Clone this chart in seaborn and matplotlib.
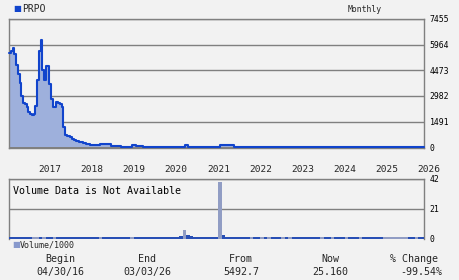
import numpy as np
import pandas as pd
import matplotlib
matplotlib.use("Agg")
import matplotlib.pyplot as plt
import matplotlib.transforms as mtransforms
import seaborn as sns

# ---------------- data ----------------
ticker = "PRPO"
start_year = 2016 + 4 / 12          # 04/30/16
end_year = 2026 + 2 / 12 + 3 / 365  # 03/03/26

# half-monthly closes, May 2016 .. Dec 2018
price_early = [
    5500, 5620, 5760, 5400, 4800, 4250, 3750, 3000,          # 2016 May-Aug
    2600, 2500, 2350, 2050, 1950, 1900, 1950, 2400,          # 2016 Sep-Dec
    3900, 5600, 6240, 4500, 3900, 4700, 4700, 3700,          # 2017 Jan-Apr
    2800, 2350, 2350, 2650, 2580, 2500, 2350, 1200,          # 2017 May-Aug
    690, 650, 650, 590, 480, 420, 360, 340,                  # 2017 Sep-Dec
    330, 300, 270, 230, 170, 160, 150, 150,                  # 2018 Jan-Apr
    150, 140, 116, 116, 165, 165, 165, 165,                  # 2018 May-Aug
    160, 160, 80, 77, 60, 50, 45, 45,                        # 2018 Sep-Dec
]
# monthly closes, Jan 2019 .. Mar 2026
price_late = [
    40, 40, 40, 150, 80, 70, 30, 30, 30, 30, 30, 30,                # 2019
    30, 30, 30, 30, 30, 30, 110, 35, 35, 35, 35, 35,                # 2020
    35, 35, 35, 35, 115, 115, 115, 115, 30, 30, 30, 30,             # 2021
    29, 30, 30, 29, 30, 29, 30, 30, 30, 29, 30, 29,                 # 2022
    30, 30, 30, 30, 30, 30, 30, 29, 28, 29, 29, 28,                 # 2023
    29, 28, 28, 27, 28, 28, 27, 26, 27, 27, 27, 27,                 # 2024
    27, 26, 25.5, 26, 26.5, 27, 27.5, 28, 28.5, 29, 28, 27,         # 2025
    28, 25.5, 25.16,                                                # 2026
]
# monthly volume / 1000, May 2016 .. Mar 2026
volume = [
    1.1, 1.1, 1.1, 1.1, 1.1, 1.1, 1.1, 1.1,
    1.1, 1.1, 1.1, 1.1, 1.1, 1.1, 1.1, 1.1, 1.1, 1.1, 1.1, 1.1,
    1.1, 1.1, 1.1, 1.1, 1.1, 1.1, 1.1, 1.1, 1.1, 1.1, 1.1, 1.1,
    1.1, 1.1, 1.1, 1.6, 1.4, 1.1, 1.1, 1.1, 1.1, 1.1, 1.1, 1.1,
    1.1, 1.1, 1.1, 1.1, 1.2, 1.8, 6.3, 2.8, 1.8, 1.1, 1.4, 1.1,
    1.1, 1.1, 1.1, 1.1, 40.0, 2.8, 1.4, 1.1, 1.1, 1.1, 1.1, 1.1,
    1.1, 1.1, 1.1, 1.1, 1.1, 1.1, 1.1, 1.1, 1.1, 1.1, 1.1, 1.1,
    1.1, 1.1, 1.1, 1.1, 1.1, 1.1, 1.1, 1.1, 1.1, 1.1, 1.1, 1.1,
    1.1, 1.1, 1.1, 1.1, 1.1, 1.1, 1.1, 1.1, 1.1, 1.1, 1.1, 1.1,
    1.1, 1.1, 1.1, 1.1, 1.1, 1.1, 1.1, 1.1, 1.1, 1.1, 1.1, 1.1,
    1.1, 1.1, 1.1,
]
price_ticks = [0, 1491, 2982, 4473, 5964, 7455]
volume_ticks = [0, 21, 42]
years = [2017, 2018, 2019, 2020, 2021, 2022, 2023, 2024, 2025, 2026]
stat_labels = ["Begin", "End", "From", "Now", "% Change"]
stat_values = ["04/30/16", "03/03/26", "5492.7", "25.160", "-99.54%"]

# ---------------- style ----------------
BG = "#f2f2f2"
GRID = "#808080"
LINE = "#1144cc"
FILL = "#9eb0dc"
VOL_LIGHT = "#8899cc"
VOL_DARK = "#1144cc"
MONO = ["DejaVu Sans Mono"]

sns.set_theme(style="white")
plt.rcParams["font.family"] = MONO

# price x positions
x_early = start_year + np.arange(len(price_early)) / 24.0
x_late = start_year + (32 + np.arange(len(price_late))) / 12.0
px = list(x_early) + list(x_late) + [end_year]
pv = list(price_early) + list(price_late) + [price_late[-1]]

# volume frame
months = np.arange(len(volume))
vx = start_year + months / 12.0
monthly_close = price_early[1::2][:32] + price_late
vdf = pd.DataFrame({"x": vx, "volume": volume, "close": monthly_close})
vdf["dir"] = np.where(vdf["close"].diff().fillna(0) > 0, "up", "down")

fig = plt.figure(figsize=(4.6, 2.8), dpi=100, facecolor=BG)
W, H = 460.0, 280.0
ax1 = fig.add_axes([9 / W, 1 - 148 / H, 415 / W, 129 / H], facecolor=BG)
ax2 = fig.add_axes([9 / W, 1 - 239 / H, 415 / W, 60 / H], facecolor=BG)

# ---- price panel ----
ax1.fill_between(px, pv, step="post", color=FILL, lw=0, zorder=2)
sns.lineplot(x=px, y=pv, drawstyle="steps-post", color=LINE, lw=1.5, ax=ax1,
             zorder=4, clip_on=False)
ax1.set_xlim(start_year, end_year)
ax1.set_ylim(-45, price_ticks[-1])
ax1.set_yticks(price_ticks)
ax1.set_yticklabels([str(t) for t in price_ticks])
ax1.yaxis.tick_right()
ax1.tick_params(axis="y", length=0, pad=4, labelsize=5.9, colors="black")
ax1.set_xticks([])
ax1.grid(axis="y", color=GRID, lw=1, zorder=1)
for s in ax1.spines.values():
    s.set_color(GRID)
    s.set_linewidth(1)
    s.set_zorder(3)
ax1.set_xlabel("")
ax1.set_ylabel("")

# ---- volume panel ----
sns.barplot(data=vdf, x="x", y="volume", hue="dir", native_scale=True, dodge=False,
            palette={"up": VOL_LIGHT, "down": VOL_DARK}, width=1.0, legend=False,
            linewidth=0, ax=ax2)
for p in ax2.patches:
    p.set_zorder(3)
ax2.set_xlim(start_year, end_year)
ax2.set_ylim(0, volume_ticks[-1])
ax2.set_yticks(volume_ticks)
ax2.set_yticklabels([str(t) for t in volume_ticks])
ax2.yaxis.tick_right()
ax2.tick_params(axis="y", length=0, pad=4, labelsize=5.9, colors="black")
ax2.set_xticks([])
ax2.grid(axis="y", color=GRID, lw=1, zorder=1)
for s in ax2.spines.values():
    s.set_color(GRID)
    s.set_linewidth(1)
    s.set_zorder(2)
ax2.spines["bottom"].set_visible(False)
ax2.set_xlabel("")
ax2.set_ylabel("")
ax2.text(4 / 415, 0.80, "Volume Data is Not Available", transform=ax2.transAxes,
         fontsize=7.2, ha="left", va="center", color="black")

# year labels above the volume panel
trans = mtransforms.blended_transform_factory(ax2.transData, fig.transFigure)
for yr in years:
    ax2.text(yr + 0.30, 1 - 170 / H, str(yr), transform=trans, ha="center",
             va="center", fontsize=6.8, clip_on=False)

# header
fig.text(13 / W, 1 - 9 / H, "■", color=LINE, fontsize=6, ha="left", va="center",
         family=["DejaVu Sans"])
fig.text(22 / W, 1 - 9 / H, ticker, fontsize=7, ha="left", va="center")
fig.text(365 / W, 1 - 9 / H, "Monthly", fontsize=5.9, ha="center", va="center")

# volume legend
fig.text(12 / W, 1 - 245 / H, "■", color=VOL_LIGHT, fontsize=6, ha="left", va="center",
         family=["DejaVu Sans"])
fig.text(20 / W, 1 - 245 / H, "Volume/1000", fontsize=6, ha="left", va="center")

# stats
label_x = [60, 147, 241, 330, 414]
value_x = [60, 147, 241, 330, 421]
for lx, vxp, lab, val in zip(label_x, value_x, stat_labels, stat_values):
    fig.text(lx / W, 1 - 259 / H, lab, fontsize=7.2, ha="center", va="center")
    fig.text(vxp / W, 1 - 272 / H, val, fontsize=7.2, ha="center", va="center")

fig.savefig("out.png", dpi=100, facecolor=BG)
